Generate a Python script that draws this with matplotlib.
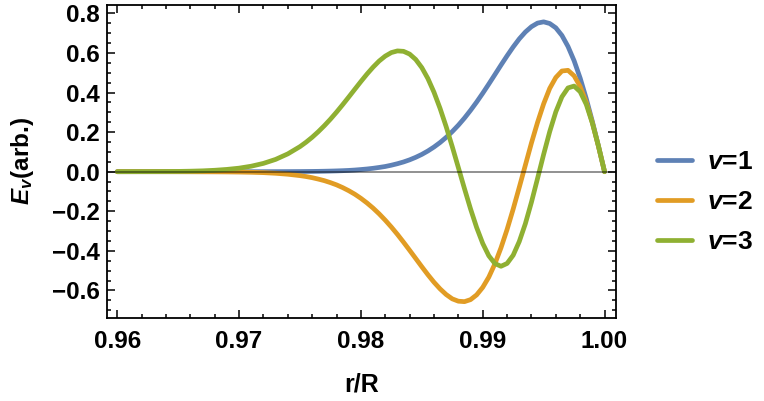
import matplotlib
matplotlib.use("Agg")
import matplotlib.pyplot as plt
from matplotlib.ticker import MultipleLocator, FixedLocator

# r/R sample positions
r = [0.960, 0.961, 0.962, 0.963, 0.964, 0.965, 0.966, 0.967, 0.968, 0.969,
     0.970, 0.971, 0.972, 0.973, 0.974,
     0.9750, 0.9755, 0.9760, 0.9765, 0.9770, 0.9775, 0.9780, 0.9785, 0.9790, 0.9795,
     0.9800, 0.9805, 0.9810, 0.9815, 0.9820, 0.9825, 0.9830, 0.9835, 0.9840, 0.9845,
     0.9850, 0.9855, 0.9860, 0.9865, 0.9870, 0.9875, 0.9880, 0.9885, 0.9890, 0.9895,
     0.9900, 0.9905, 0.9910, 0.9915, 0.9920, 0.9925, 0.9930, 0.9935, 0.9940, 0.9945,
     0.9950, 0.9955, 0.9960, 0.9965, 0.9970, 0.9975, 0.9980, 0.9985, 0.9990, 0.9995,
     1.0000]

E_v1 = [0.0, 0.0, 0.0, 0.0, 0.0, 0.0, 0.0, 0.0, 0.0, 0.0,
        0.0, 0.0001, 0.0002, 0.0003, 0.0005,
        0.0008, 0.0011, 0.0014, 0.0018, 0.0024, 0.0031, 0.0040, 0.0051, 0.0065, 0.0084,
        0.0109, 0.0137, 0.0172, 0.0215, 0.0263, 0.0328, 0.0404, 0.0492, 0.0599, 0.0726,
        0.0873, 0.1047, 0.1246, 0.1474, 0.1734, 0.2026, 0.2349, 0.2707, 0.3099, 0.3517,
        0.3962, 0.4428, 0.4905, 0.5386, 0.5854, 0.6301, 0.6709, 0.7055, 0.7325, 0.7506,
        0.7569, 0.7485, 0.7267, 0.6883, 0.6325, 0.5607, 0.4726, 0.3689, 0.2538, 0.1297,
        0.0]

E_v2 = [0.0, 0.0, 0.0, 0.0, 0.0, -0.0001, -0.0002, -0.0004, -0.0006, -0.0010,
        -0.0017, -0.0029, -0.0048, -0.0080, -0.0128,
        -0.0199, -0.0245, -0.0302, -0.0373, -0.0453, -0.0552, -0.0665, -0.0802, -0.0959, -0.1137,
        -0.1345, -0.1579, -0.1839, -0.2130, -0.2450, -0.2796, -0.3167, -0.3561, -0.3969, -0.4384,
        -0.4800, -0.5204, -0.5583, -0.5920, -0.6205, -0.6423, -0.6541, -0.6564, -0.6463, -0.6223,
        -0.5843, -0.5325, -0.4653, -0.3843, -0.2917, -0.1888, -0.0789, 0.0330, 0.1452, 0.2490,
        0.3428, 0.4209, 0.4758, 0.5086, 0.5120, 0.4844, 0.4299, 0.3503, 0.2470, 0.1276,
        0.0]

E_v3 = [0.0001, 0.0002, 0.0003, 0.0005, 0.0009, 0.0015, 0.0026, 0.0043, 0.0072, 0.0116,
        0.0179, 0.0278, 0.0420, 0.0621, 0.0900,
        0.1267, 0.1490, 0.1739, 0.2018, 0.2323, 0.2653, 0.3008, 0.3382, 0.3769, 0.4163,
        0.4554, 0.4931, 0.5280, 0.5591, 0.5839, 0.6017, 0.6101, 0.6080, 0.5941, 0.5668,
        0.5257, 0.4705, 0.4014, 0.3195, 0.2272, 0.1264, 0.0209, -0.0852, -0.1879, -0.2818,
        -0.3623, -0.4247, -0.4640, -0.4777, -0.4635, -0.4219, -0.3527, -0.2627, -0.1540, -0.0343,
        0.0873, 0.2026, 0.3023, 0.3781, 0.4231, 0.4325, 0.4037, 0.3399, 0.2452, 0.1296,
        0.0]

series = [E_v1, E_v2, E_v3]
legend_labels = [r"$v$=1", r"$v$=2", r"$v$=3"]
colors = ["#5E81B5", "#E19C24", "#8FB032"]
x_ticks = [0.96, 0.97, 0.98, 0.99, 1.00]
x_ticklabels = ["0.96", "0.97", "0.98", "0.99", "1.00"]
y_ticks = [-0.6, -0.4, -0.2, 0.0, 0.2, 0.4, 0.6, 0.8]
y_ticklabels = ["\u22120.6", "\u22120.4", "\u22120.2", "0.0", "0.2", "0.4", "0.6", "0.8"]

plt.rcParams.update({
    "font.family": ["Liberation Sans", "DejaVu Sans"],
    "font.weight": "bold",
    "mathtext.fontset": "custom",
    "mathtext.it": "Liberation Sans:italic",
    "mathtext.bfit": "Liberation Sans:italic:bold",
    "mathtext.rm": "Liberation Sans:bold",
    "mathtext.bf": "Liberation Sans:bold",
})

W, H = 764, 401
fig = plt.figure(figsize=(W / 100, H / 100), dpi=100)
L, R, T, B = 107, 616, 5, 318
ax = fig.add_axes([L / W, 1 - B / H, (R - L) / W, (B - T) / H])

for E, c, lab in zip(series, colors, legend_labels):
    ax.plot(r, E, color=c, lw=3.4, solid_capstyle="round",
            solid_joinstyle="round", label=lab, zorder=2)

ax.axhline(0, color="black", alpha=0.55, lw=1.1, zorder=3)

ax.set_xlim(0.95916, 1.00094)
ax.set_ylim(-0.739, 0.842)

ax.xaxis.set_major_locator(FixedLocator(x_ticks))
ax.set_xticklabels(x_ticklabels)
ax.yaxis.set_major_locator(FixedLocator(y_ticks))
ax.set_yticklabels(y_ticklabels)
ax.xaxis.set_minor_locator(MultipleLocator(0.002))
ax.yaxis.set_minor_locator(MultipleLocator(0.05))

ax.tick_params(which="both", direction="in", top=True, right=True,
               width=1.1, color="black", labelsize=17.5)
ax.tick_params(which="major", length=5.5)
ax.tick_params(which="minor", length=3.0)
ax.tick_params(axis="x", pad=9)
ax.tick_params(axis="y", pad=5)
for lab in ax.get_xticklabels() + ax.get_yticklabels():
    lab.set_fontweight("bold")

for s in ax.spines.values():
    s.set_linewidth(1.3)
    s.set_color("black")

fig.text(361.5 / W, 1 - 385 / H, "r/R", ha="center", va="center",
         fontsize=18, fontweight="bold")
fig.text(22 / W, 1 - 161 / H, r"$\mathbfit{E}_{v}$(arb.)", ha="center",
         va="center", rotation=90, fontsize=17.5, fontweight="bold")

leg = ax.legend(loc="center left", bbox_to_anchor=(657 / W, 1 - 202 / H),
                bbox_transform=fig.transFigure, frameon=False,
                prop={"size": 19, "weight": "bold"}, handlelength=1.33,
                handletextpad=0.57, labelspacing=0.6, borderpad=0,
                borderaxespad=0)

fig.savefig("out.png", dpi=100)
